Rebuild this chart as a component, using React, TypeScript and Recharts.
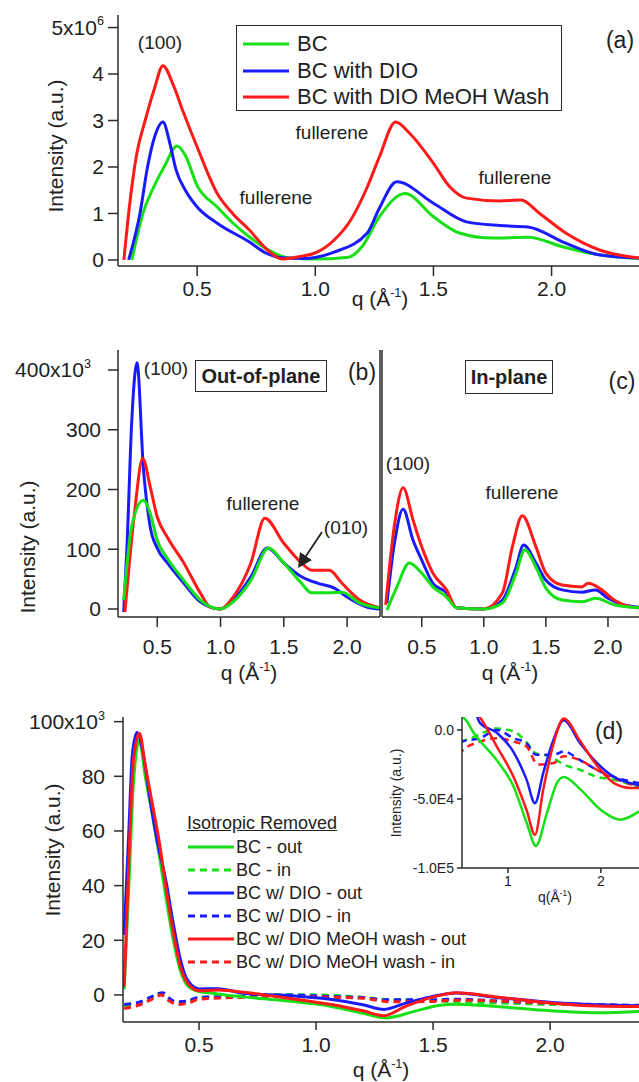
import React from 'react'
import { LineChart, Line, XAxis, YAxis } from 'recharts'

const FONT = '"Liberation Sans", Arial, Helvetica, sans-serif'
const GREEN = '#17e017'
const BLUE = '#1a1aff'
const RED = '#ff1a1a'
const AXIS = '#2b2b2b'
const INK = '#222'

type Pt = [number, number]

// (a) integrated intensity, units of 1e6
const greenA: Pt[] = [[0.224, 0], [0.25, 0.6], [0.27, 1.0], [0.31, 1.5], [0.36, 2.0], [0.415, 2.45], [0.45, 2.25], [0.5, 1.6], [0.585, 1.14], [0.65, 0.8], [0.72, 0.5], [0.79, 0.25], [0.89, 0.04], [1.0, 0.02], [1.14, 0.06], [1.2, 0.3], [1.27, 0.92], [1.38, 1.43], [1.5, 0.93], [1.61, 0.58], [1.75, 0.47], [1.9, 0.49], [2.05, 0.28], [2.2, 0.11], [2.37, 0.03]]
const blueA: Pt[] = [[0.21, 0], [0.258, 1.0], [0.29, 2.0], [0.32, 2.65], [0.355, 2.97], [0.385, 2.5], [0.41, 1.95], [0.45, 1.5], [0.5, 1.14], [0.585, 0.79], [0.72, 0.39], [0.79, 0.15], [0.87, 0.04], [0.95, 0.03], [1.08, 0.17], [1.22, 0.58], [1.27, 1.1], [1.345, 1.68], [1.5, 1.22], [1.64, 0.82], [1.78, 0.74], [1.9, 0.71], [2.06, 0.36], [2.2, 0.11], [2.37, 0.04]]
const redA: Pt[] = [[0.19, 0], [0.21, 1.0], [0.245, 2.3], [0.28, 3.0], [0.32, 3.7], [0.355, 4.18], [0.4, 3.75], [0.44, 3.2], [0.5, 2.43], [0.585, 1.43], [0.65, 1.0], [0.72, 0.65], [0.79, 0.25], [0.86, 0.02], [0.93, 0.07], [1.0, 0.15], [1.08, 0.43], [1.15, 0.86], [1.22, 1.57], [1.27, 2.2], [1.34, 2.97], [1.4, 2.72], [1.5, 2.08], [1.57, 1.57], [1.64, 1.33], [1.78, 1.27], [1.87, 1.29], [1.95, 1.0], [2.06, 0.58], [2.2, 0.22], [2.37, 0.04]]

// (b) out-of-plane, units of 1e3
const greenB: Pt[] = [[0.235, 15], [0.3, 140], [0.39, 182], [0.445, 160], [0.5, 115], [0.58, 85], [0.71, 48], [0.84, 15], [1.0, 0], [1.1, 12], [1.24, 48], [1.38, 102], [1.5, 77], [1.64, 43], [1.72, 27], [1.86, 27], [1.96, 28], [2.1, 10], [2.26, 2]]
const blueB: Pt[] = [[0.235, -5], [0.26, 100], [0.3, 320], [0.34, 412], [0.39, 238], [0.445, 137], [0.5, 102], [0.58, 77], [0.71, 43], [0.84, 12], [1.0, 0], [1.1, 15], [1.24, 54], [1.37, 102], [1.5, 77], [1.64, 54], [1.77, 43], [1.9, 35], [2.0, 20], [2.16, 3], [2.26, 0]]
const redB: Pt[] = [[0.245, -5], [0.32, 160], [0.385, 252], [0.445, 204], [0.5, 154], [0.58, 120], [0.71, 77], [0.84, 27], [0.92, 3], [1.0, 0], [1.1, 20], [1.24, 77], [1.35, 152], [1.5, 110], [1.64, 77], [1.72, 65], [1.86, 65], [1.96, 43], [2.1, 15], [2.26, 2]]

// (c) in-plane, units of 1e3
const greenC: Pt[] = [[0.22, -2], [0.3, 37], [0.4, 77], [0.5, 60], [0.59, 37], [0.7, 20], [0.78, 2], [1.0, 0], [1.15, 10], [1.26, 60], [1.33, 99], [1.42, 70], [1.5, 35], [1.63, 15], [1.79, 12], [1.9, 18], [2.05, 7], [2.25, 2]]
const blueC: Pt[] = [[0.22, 10], [0.28, 110], [0.35, 167], [0.43, 115], [0.5, 82], [0.59, 43], [0.7, 27], [0.78, 2], [1.0, 0], [1.15, 15], [1.26, 70], [1.32, 107], [1.42, 77], [1.5, 48], [1.63, 32], [1.79, 28], [1.9, 32], [2.0, 18], [2.12, 7], [2.25, 3]]
const redC: Pt[] = [[0.21, 7], [0.28, 140], [0.35, 203], [0.43, 149], [0.5, 104], [0.59, 60], [0.7, 32], [0.78, 2], [1.0, 0], [1.15, 27], [1.23, 104], [1.31, 156], [1.42, 104], [1.5, 60], [1.63, 40], [1.79, 37], [1.84, 43], [1.95, 32], [2.05, 15], [2.2, 3], [2.25, 2]]

// (d) isotropic removed, units of 1e3 (inset shows the same curves)
const greenOut: Pt[] = [[0.18, 2], [0.2, 40], [0.22, 78], [0.245, 93], [0.27, 80], [0.3, 66], [0.33, 51], [0.36, 35], [0.39, 20], [0.42, 9], [0.45, 3.5], [0.5, 1.2], [0.56, 0.6], [0.63, -0.2], [0.7, -0.8], [0.88, -2.2], [1.06, -4.1], [1.2, -6.7], [1.3, -8.4], [1.42, -6.0], [1.53, -3.8], [1.6, -3.4], [1.78, -4.3], [2.0, -5.8], [2.21, -6.5], [2.41, -5.9]]
const greenIn: Pt[] = [[0.18, -4], [0.25, -3], [0.3, -1], [0.33, 0.5], [0.36, -1.5], [0.4, -3], [0.45, -2.5], [0.5, -0.9], [0.6, -0.6], [0.7, -0.3], [0.88, 0.1], [1.06, -0.1], [1.2, -0.9], [1.3, -1.7], [1.45, -1.9], [1.6, -2.5], [1.78, -2.9], [1.96, -3.4], [2.14, -3.6], [2.41, -4.2]]
const blueOut: Pt[] = [[0.18, 22], [0.2, 60], [0.215, 88], [0.235, 96], [0.26, 89], [0.29, 72], [0.32, 57], [0.36, 41], [0.39, 26], [0.42, 13], [0.45, 5.5], [0.5, 2.2], [0.58, 2.3], [0.7, 0.5], [0.88, -0.2], [1.06, -1.6], [1.2, -3.6], [1.29, -5.3], [1.38, -3.1], [1.49, -0.7], [1.6, 0.7], [1.78, -1.0], [1.96, -2.4], [2.14, -3.4], [2.32, -3.85], [2.41, -4.0]]
const blueIn: Pt[] = [[0.18, -3.5], [0.25, -2.5], [0.3, -0.5], [0.345, 0.8], [0.37, -1], [0.4, -2.5], [0.45, -2.2], [0.5, -0.84], [0.7, -0.6], [0.88, 0], [1.06, -0.6], [1.2, -0.96], [1.3, -1.8], [1.49, -1.8], [1.6, -1.56], [1.78, -2.2], [1.96, -2.9], [2.14, -3.4], [2.41, -3.85]]
const redOut: Pt[] = [[0.18, 3], [0.2, 49], [0.22, 86], [0.245, 95.8], [0.27, 84], [0.3, 70], [0.33, 56], [0.36, 38.5], [0.39, 23], [0.42, 10.5], [0.45, 4.5], [0.5, 1.5], [0.58, 1.8], [0.7, 0.9], [0.88, -1.2], [1.06, -3.4], [1.2, -5.8], [1.29, -7.6], [1.38, -4.3], [1.49, -1.0], [1.6, 0.84], [1.78, -0.84], [1.96, -2.6], [2.14, -3.85], [2.32, -4.2], [2.41, -4.2]]
const redIn: Pt[] = [[0.18, -5], [0.25, -3.5], [0.3, -1.5], [0.34, 0], [0.37, -2], [0.41, -3.5], [0.46, -2.8], [0.5, -1.56], [0.7, -0.84], [0.88, -0.6], [1.06, -0.84], [1.2, -1.2], [1.32, -2.5], [1.49, -2.4], [1.6, -1.9], [1.78, -2.2], [1.96, -2.9], [2.14, -3.5], [2.41, -4.1]]

const legendA = ['BC', 'BC with DIO', 'BC with DIO MeOH Wash']
const legendD = ['BC - out', 'BC - in', 'BC w/ DIO - out', 'BC w/ DIO - in', 'BC w/ DIO MeOH wash - out', 'BC w/ DIO MeOH wash - in']
const qTicks = [0.5, 1.0, 1.5, 2.0]
const insetXTicks = [1, 2]
const insetYTicks = [0, -5, -10]
const insetYLabels = ['0.0', '-5.0E4', '-1.0E5']

const rows = (pts: Pt[]) => pts.map(([q, v]) => ({ q, v }))

const seriesA = [
  { color: GREEN, pts: greenA },
  { color: BLUE, pts: blueA },
  { color: RED, pts: redA },
]
const seriesD = [
  { color: GREEN, pts: greenOut, dashed: false },
  { color: GREEN, pts: greenIn, dashed: true },
  { color: BLUE, pts: blueOut, dashed: false },
  { color: BLUE, pts: blueIn, dashed: true },
  { color: RED, pts: redOut, dashed: false },
  { color: RED, pts: redIn, dashed: true },
]
// solid curves drawn last so red stays on top
const drawOrderD = [1, 3, 5, 0, 2, 4]

const line = { stroke: AXIS, strokeWidth: 1.5 }

// y tick with a "x10^n" on the top label
const supTick = (fs: number, top: number, exp: string, shift = 0) => (p: any) => {
  const v = p.payload.value
  return (
    <text x={v === top ? p.x + shift : p.x} y={p.y} dy="0.35em" textAnchor="end" fontSize={fs} fontFamily={FONT} fill={INK}>
      {v === top ? (
        <>
          <tspan>{`${v}x10`}</tspan>
          <tspan dy={-fs * 0.45} fontSize={fs * 0.6}>{exp}</tspan>
        </>
      ) : (
        String(v)
      )}
    </text>
  )
}

const Note = ({ x, y, size = 19, bold = false, rotate = false, children }: any) => (
  <div
    style={{
      position: 'absolute',
      left: x,
      top: y,
      transform: `translate(-50%, -50%)${rotate ? ' rotate(-90deg)' : ''}`,
      fontSize: size,
      fontWeight: bold ? 700 : 400,
      whiteSpace: 'nowrap',
      lineHeight: 1,
      color: INK,
    }}
  >
    {children}
  </div>
)

const QLabel = () => (
  <>
    q (Å<span style={{ fontSize: '0.6em', position: 'relative', top: '-0.75em' }}>-1</span>)
  </>
)

const curve = (pts: Pt[], color: string, key: string, width = 3, dashed = false) => (
  <Line
    key={key}
    data={rows(pts)}
    dataKey="v"
    type="monotone"
    stroke={color}
    strokeWidth={width}
    strokeDasharray={dashed ? '7 5' : undefined}
    dot={false}
    isAnimationActive={false}
  />
)

export default function App() {
  const xTick = (fs: number) => ({ fill: INK, fontSize: fs, fontFamily: FONT })
  return (
    <div style={{ position: 'absolute', left: 0, top: 0, width: 639, height: 1082, background: '#fff', fontFamily: FONT, overflow: 'hidden' }}>
      {/* (a) */}
      <div style={{ position: 'absolute', left: 0, top: 0 }}>
        <LineChart width={639} height={310} margin={{ top: 15, right: 0, bottom: 0, left: 0 }}>
          <XAxis dataKey="q" type="number" domain={[0.165, 2.37]} allowDataOverflow ticks={qTicks} tickFormatter={(v) => v.toFixed(1)} height={44} tickSize={10} tickMargin={5} axisLine={line} tickLine={line} tick={xTick(21)} />
          <XAxis xAxisId="top" orientation="top" type="number" domain={[0.165, 2.37]} height={0} tick={false} tickLine={false} axisLine={line} />
          <YAxis type="number" domain={[-0.13, 5.27]} allowDataOverflow ticks={[0, 1, 2, 3, 4, 5]} width={118} tickSize={10} tickMargin={4} axisLine={line} tickLine={line} tick={supTick(21, 5, '6')} />
          {seriesA.map((s, i) => curve(s.pts, s.color, `a${i}`))}
        </LineChart>
      </div>

      {/* (b) out-of-plane */}
      <div style={{ position: 'absolute', left: 0, top: 330 }}>
        <LineChart width={381} height={330} margin={{ top: 20, right: 0, bottom: 0, left: 0 }}>
          <XAxis dataKey="q" type="number" domain={[0.19, 2.26]} allowDataOverflow ticks={qTicks} tickFormatter={(v) => v.toFixed(1)} height={43} tickSize={10} tickMargin={12} axisLine={line} tickLine={line} tick={xTick(21)} />
          <XAxis xAxisId="top" orientation="top" type="number" domain={[0.19, 2.26]} height={0} tick={false} tickLine={false} axisLine={line} />
          <YAxis type="number" domain={[-13.4, 433.5]} allowDataOverflow ticks={[0, 100, 200, 300, 400]} width={118} tickSize={10} tickMargin={7} axisLine={line} tickLine={line} tick={supTick(21, 400, '3', -10)} />
          <YAxis yAxisId="r" orientation="right" width={1} tick={false} tickLine={false} axisLine={line} />
          {curve(blueB, BLUE, 'b1')}
          {curve(redB, RED, 'b2')}
          {curve(greenB, GREEN, 'b0')}
        </LineChart>
      </div>

      {/* (c) in-plane */}
      <div style={{ position: 'absolute', left: 372, top: 330 }}>
        <LineChart width={267} height={330} margin={{ top: 20, right: 0, bottom: 0, left: 0 }}>
          <XAxis dataKey="q" type="number" domain={[0.18, 2.25]} allowDataOverflow ticks={qTicks} tickFormatter={(v) => v.toFixed(1)} height={43} tickSize={10} tickMargin={12} axisLine={line} tickLine={line} tick={xTick(21)} />
          <XAxis xAxisId="top" orientation="top" type="number" domain={[0.18, 2.25]} height={0} tick={false} tickLine={false} axisLine={line} />
          <YAxis type="number" domain={[-13.4, 433.5]} allowDataOverflow width={10} tick={false} tickLine={false} axisLine={line} />
          {curve(blueC, BLUE, 'c1')}
          {curve(redC, RED, 'c2')}
          {curve(greenC, GREEN, 'c0')}
        </LineChart>
      </div>

      {/* (d) main */}
      <div style={{ position: 'absolute', left: 0, top: 700 }}>
        <LineChart width={639} height={382} margin={{ top: 17, right: 0, bottom: 0, left: 0 }}>
          <XAxis dataKey="q" type="number" domain={[0.175, 2.38]} allowDataOverflow ticks={qTicks} tickFormatter={(v) => v.toFixed(1)} height={60} tickSize={8} tickMargin={7} axisLine={line} tickLine={line} tick={xTick(21)} />
          <XAxis xAxisId="top" orientation="top" type="number" domain={[0.175, 2.38]} height={0} tick={false} tickLine={false} axisLine={line} />
          <YAxis type="number" domain={[-9.9, 101.7]} allowDataOverflow ticks={[0, 20, 40, 60, 80, 100]} width={123} tickSize={9} tickMargin={9} axisLine={line} tickLine={line} tick={supTick(21, 100, '3')} />
          {drawOrderD.map((i) => curve(seriesD[i].pts, seriesD[i].color, `d${i}`, 3, seriesD[i].dashed))}
        </LineChart>
      </div>

      {/* (d) inset */}
      <div style={{ position: 'absolute', left: 380, top: 705 }}>
        <LineChart width={259} height={200} margin={{ top: 12, right: 0, bottom: 0, left: 0 }}>
          <XAxis dataKey="q" type="number" domain={[0.505, 2.41]} allowDataOverflow ticks={insetXTicks} height={37} tickSize={5} tickMargin={3} axisLine={line} tickLine={line} tick={xTick(14)} />
          <XAxis xAxisId="top" orientation="top" type="number" domain={[0.505, 2.41]} height={0} tick={false} tickLine={false} axisLine={line} />
          <YAxis type="number" domain={[-10, 0.94]} allowDataOverflow ticks={insetYTicks} tickFormatter={(v) => insetYLabels[insetYTicks.indexOf(v)]} width={82} tickSize={5} tickMargin={3} axisLine={line} tickLine={line} tick={xTick(14)} />
          {drawOrderD.map((i) => curve(seriesD[i].pts, seriesD[i].color, `i${i}`, 2.5, seriesD[i].dashed))}
        </LineChart>
      </div>

      {/* axis titles */}
      <Note x={55} y={146} size={21} rotate>Intensity (a.u.)</Note>
      <Note x={380} y={298} size={21}><QLabel /></Note>
      <Note x={27} y={547} size={21} rotate>Intensity (a.u.)</Note>
      <Note x={249} y={672} size={21}><QLabel /></Note>
      <Note x={510} y={672} size={21}><QLabel /></Note>
      <Note x={52} y={850} size={21} rotate>Intensity (a.u.)</Note>
      <Note x={381} y={1069} size={21}><QLabel /></Note>
      <Note x={396} y={793} size={14} rotate>Intensity (a.u.)</Note>
      <Note x={555} y={897} size={14}>q(Å<span style={{ fontSize: '0.6em', position: 'relative', top: '-0.75em' }}>-1</span>)</Note>

      {/* (a) annotations + legend */}
      <Note x={160} y={42}>(100)</Note>
      <Note x={276} y={197}>fullerene</Note>
      <Note x={332} y={132}>fullerene</Note>
      <Note x={515} y={177}>fullerene</Note>
      <Note x={620} y={40} size={23}>(a)</Note>
      <div style={{ position: 'absolute', left: 236, top: 25, width: 326, height: 86, border: `1.5px solid ${AXIS}`, boxSizing: 'border-box' }}>
        {legendA.map((name, i) => (
          <div key={name} style={{ position: 'absolute', left: 6, top: 6 + i * 26.5, height: 24, display: 'flex', alignItems: 'center', fontSize: 22, color: INK, whiteSpace: 'nowrap' }}>
            <svg width={46} height={8} style={{ marginRight: 8 }}>
              <line x1={0} y1={4} x2={46} y2={4} stroke={seriesA[i].color} strokeWidth={3} />
            </svg>
            {name}
          </div>
        ))}
      </div>

      {/* (b) annotations */}
      <Note x={166} y={368}>(100)</Note>
      <div style={{ position: 'absolute', left: 195, top: 360, width: 132, height: 32, border: `1.5px solid ${AXIS}`, boxSizing: 'border-box', display: 'flex', alignItems: 'center', justifyContent: 'center', fontSize: 20, fontWeight: 700, color: INK }}>Out-of-plane</div>
      <Note x={362} y={372} size={23}>(b)</Note>
      <Note x={263} y={503}>fullerene</Note>
      <Note x={346} y={527}>(010)</Note>

      {/* (c) annotations */}
      <div style={{ position: 'absolute', left: 465, top: 360, width: 88, height: 34, border: `1.5px solid ${AXIS}`, boxSizing: 'border-box', display: 'flex', alignItems: 'center', justifyContent: 'center', fontSize: 20, fontWeight: 700, color: INK }}>In-plane</div>
      <Note x={622} y={381} size={23}>(c)</Note>
      <Note x={408} y={463}>(100)</Note>
      <Note x={522} y={492}>fullerene</Note>

      {/* (d) annotations + legend */}
      <Note x={609} y={731} size={23}>(d)</Note>
      <div style={{ position: 'absolute', left: 187, top: 812, fontSize: 18, lineHeight: '22px', color: INK, textDecoration: 'underline', whiteSpace: 'nowrap' }}>Isotropic Removed</div>
      {legendD.map((name, i) => (
        <div key={name} style={{ position: 'absolute', left: 188, top: 836 + i * 23, height: 22, display: 'flex', alignItems: 'center', fontSize: 18, color: INK, whiteSpace: 'nowrap' }}>
          <svg width={46} height={6} style={{ marginRight: 2 }}>
            <line x1={0} y1={3} x2={46} y2={3} stroke={seriesD[i].color} strokeWidth={3} strokeDasharray={seriesD[i].dashed ? '7 5' : undefined} />
          </svg>
          {name}
        </div>
      ))}

      {/* arrow pointing at the (010) shoulder */}
      <svg width={639} height={1082} style={{ position: 'absolute', left: 0, top: 0, pointerEvents: 'none' }}>
        <defs>
          <marker id="ah" markerWidth={8} markerHeight={8} refX={6} refY={4} orient="auto">
            <path d="M0,0 L8,4 L0,8 z" fill={INK} />
          </marker>
        </defs>
        <line x1={322} y1={532} x2={300} y2={565} stroke={INK} strokeWidth={1.8} markerEnd="url(#ah)" />
      </svg>
    </div>
  )
}
